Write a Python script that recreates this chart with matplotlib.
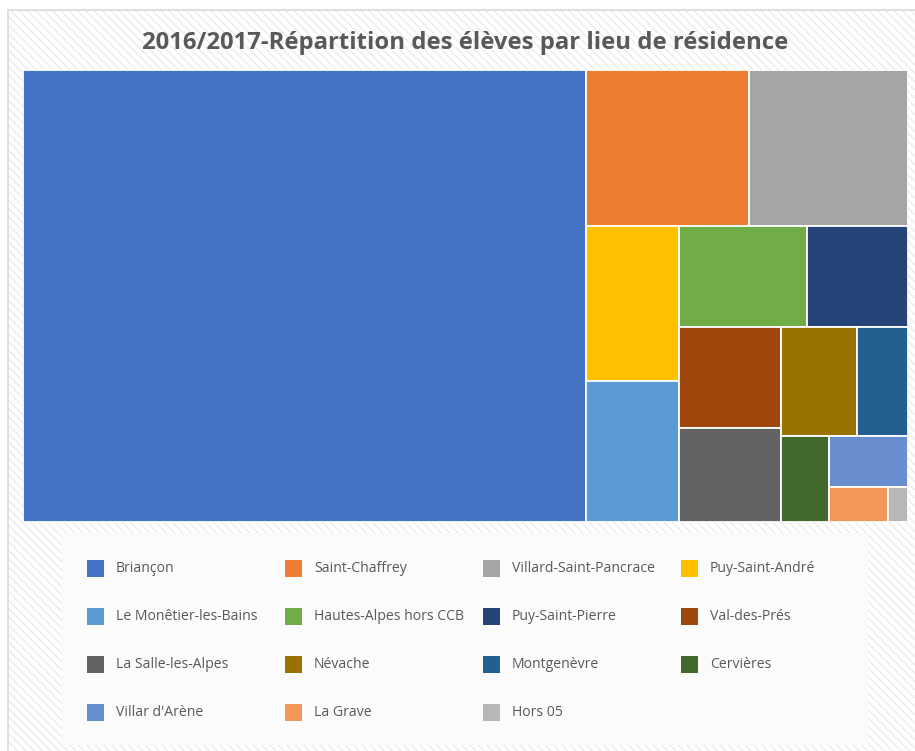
import matplotlib
matplotlib.use("Agg")
import matplotlib.pyplot as plt
from matplotlib.patches import Rectangle

plt.rcParams['font.family'] = ['Open Sans', 'DejaVu Sans']

title = "2016/2017-Répartition des élèves par lieu de résidence"
communes = ["Briançon", "Saint-Chaffrey", "Villard-Saint-Pancrace", "Puy-Saint-André",
            "Le Monêtier-les-Bains", "Hautes-Alpes hors CCB", "Puy-Saint-Pierre", "Val-des-Prés",
            "La Salle-les-Alpes", "Névache", "Montgenèvre", "Cervières",
            "Villar d'Arène", "La Grave", "Hors 05"]
eleves = [371, 37, 36, 21, 19, 19, 15, 15, 14, 12, 8, 6, 6, 3, 1]
colors = ["#4472C4", "#ED7D31", "#A5A5A5", "#FFC000", "#5B9BD5", "#70AD47",
          "#264478", "#9E480E", "#636363", "#997300", "#255E91", "#43682B",
          "#698ED0", "#F1975A", "#B7B7B7"]
# number of tiles per strip in the layout (layout choice, not data)
strips = [1, 2, 2, 2, 2, 2, 1, 1, 1, 1]

W, H = 915, 751
fig = plt.figure(figsize=(W / 100, H / 100), dpi=100)
fig.patch.set_facecolor("white")

# background of chart area (hatched)
bg = fig.add_axes([0, 0, 1, 1])
bg.set_xlim(0, W)
bg.set_ylim(H, 0)
bg.axis("off")
bg.add_patch(Rectangle((8, 10), W, H, facecolor="white", edgecolor="#d9d9d9",
                       linewidth=1.2, zorder=0))
plt.rcParams['hatch.color'] = "#ececec"
plt.rcParams['hatch.linewidth'] = 1.0
bg.add_patch(Rectangle((8.8, 10.8), W, H, facecolor="none", edgecolor="#ececec",
                       hatch="\\\\\\\\", linewidth=0, zorder=0.5))
# legend box
bg.add_patch(Rectangle((62, 533), 806, 212, facecolor="#fbfbfb", edgecolor="none", zorder=1))

bg.text(465, 43, title, ha="center", va="center", fontsize=17.2, fontweight="bold",
        color="#595959", zorder=3)

# treemap axes
L, T, R, B = 23, 70, 908, 522
ax = fig.add_axes([L / W, 1 - B / H, (R - L) / W, (B - T) / H])
ax.set_xlim(0, R - L)
ax.set_ylim(B - T, 0)
ax.axis("off")

def layout(vals, groups, x, y, w, h):
    rects = []
    idx = 0
    remaining = float(sum(vals))
    for g in groups:
        grp = vals[idx:idx + g]
        s = float(sum(grp))
        if w >= h:
            sw = w * s / remaining
            yy = y
            for v in grp:
                hh = h * v / s
                rects.append((x, yy, sw, hh))
                yy += hh
            x += sw
            w -= sw
        else:
            sh = h * s / remaining
            xx = x
            for v in grp:
                ww = w * v / s
                rects.append((xx, y, ww, sh))
                xx += ww
            y += sh
            h -= sh
        remaining -= s
        idx += g
    return rects

rects = layout(eleves, strips, 0, 0, R - L, B - T)
for (x, y, w, h), c in zip(rects, colors):
    ax.add_patch(Rectangle((x, y), w, h, facecolor=c, edgecolor="white", linewidth=1.3))

# legend
col_x = [87, 285, 483, 681]
row_y = [568, 616, 664, 712]
for i, (name, c) in enumerate(zip(communes, colors)):
    cx = col_x[i % 4]
    cy = row_y[i // 4]
    bg.add_patch(Rectangle((cx, cy - 8.5), 17, 17, facecolor=c, edgecolor="none", zorder=2))
    bg.text(cx + 29, cy, name, ha="left", va="center", fontsize=10.1, color="#595959", zorder=3)

fig.savefig("out.png", dpi=100)
